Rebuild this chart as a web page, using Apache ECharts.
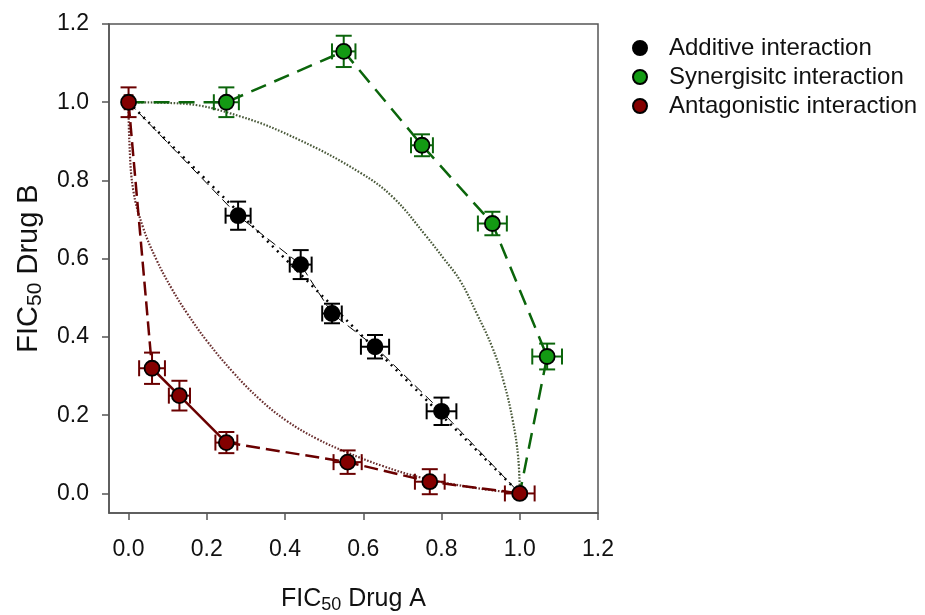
<!DOCTYPE html>
<html><head><meta charset="utf-8">
<script src="https://cdn.jsdelivr.net/npm/echarts@6/dist/echarts.min.js"></script>
<style>html,body{margin:0;padding:0;background:#fff}#c{width:925px;height:615px}</style>
</head><body><div id="c"></div>
<script>
// ---- data ----
const xTicks = [0, 0.2, 0.4, 0.6, 0.8, 1.0, 1.2];
const yTicks = [0, 0.2, 0.4, 0.6, 0.8, 1.0, 1.2];

const seriesNames = ['Additive interaction', 'Synergisitc interaction', 'Antagonistic interaction'];

const additiveX    = [0.28, 0.44, 0.52, 0.63, 0.80];
const additiveY    = [0.71, 0.585, 0.46, 0.375, 0.21];
const additiveXErr = [0.032, 0.028, 0.025, 0.036, 0.038];
const additiveYErr = [0.036, 0.037, 0.025, 0.030, 0.035];

const synergyX    = [0.25, 0.55, 0.75, 0.93, 1.07];
const synergyY    = [1.0, 1.13, 0.89, 0.69, 0.35];
const synergyXErr = [0.032, 0.030, 0.028, 0.037, 0.038];
const synergyYErr = [0.038, 0.040, 0.028, 0.030, 0.033];

const antagX    = [0, 0.06, 0.13, 0.25, 0.56, 0.77, 1.0];
const antagY    = [1.0, 0.32, 0.25, 0.13, 0.08, 0.03, 0.0];
const antagXErr = [0.010, 0.033, 0.027, 0.028, 0.036, 0.038, 0.038];
const antagYErr = [0.038, 0.040, 0.038, 0.027, 0.030, 0.032, 0.005];

// shared end points of the connecting lines
const lineStart = [0, 1];
const lineEnd   = [1, 0];

// dotted reference curves
const convexCurveX  = [0, 0.13, 0.285, 0.438, 0.592, 0.676, 0.763, 0.806, 0.847, 0.89, 0.93, 0.958, 0.982, 0.996, 1.0];
const convexCurveY  = [1, 0.997, 0.964, 0.903, 0.82, 0.757, 0.655, 0.6, 0.545, 0.46, 0.373, 0.289, 0.187, 0.092, 0];
const concaveCurveX = [0, 0.002, 0.012, 0.037, 0.072, 0.11, 0.15, 0.2, 0.267, 0.336, 0.405, 0.481, 0.558, 0.65, 0.75, 0.88, 1.0];
const concaveCurveY = [1, 0.9, 0.775, 0.68, 0.596, 0.524, 0.46, 0.39, 0.31, 0.24, 0.185, 0.14, 0.105, 0.07, 0.04, 0.015, 0];

// ---- build ----
const zip = (a, b) => a.map((v, i) => [v, b[i]]);
const zip4 = (a, b, c, d) => a.map((v, i) => [v, b[i], c[i], d[i]]);

const BLACK = '#000000', GREEN_FILL = '#139a13', GREEN_LINE = '#0b650b', RED_FILL = '#840000', RED_LINE = '#6a0000';

function errorSeries(data, color) {
  return {
    type: 'custom', z: 3, silent: true,
    data: data,
    encode: { x: 0, y: 1 },
    renderItem: function (params, api) {
      const x = api.value(0), y = api.value(1), xe = api.value(2), ye = api.value(3);
      const l = api.coord([x - xe, y]), r = api.coord([x + xe, y]);
      const t = api.coord([x, y + ye]), b = api.coord([x, y - ye]);
      const c = 8;
      const st = { stroke: color, lineWidth: 2 };
      const ln = (x1, y1, x2, y2) => ({ type: 'line', shape: { x1, y1, x2, y2 }, style: st });
      return {
        type: 'group', children: [
          ln(l[0], l[1], r[0], r[1]),
          ln(l[0], l[1] - c, l[0], l[1] + c),
          ln(r[0], r[1] - c, r[0], r[1] + c),
          ln(t[0], t[1], b[0], b[1]),
          ln(t[0] - c, t[1], t[0] + c, t[1]),
          ln(b[0] - c, b[1], b[0] + c, b[1])
        ]
      };
    }
  };
}

function lineSeries(data, color, width, dash, z, smooth) {
  return {
    type: 'line', data: data, symbol: 'none', silent: true, z: z || 2,
    smooth: smooth || false,
    lineStyle: { color: color, width: width, type: dash }
  };
}

function scatterSeries(name, data, fill) {
  return {
    name: name, type: 'scatter', data: data, symbol: 'circle', symbolSize: 15, z: 5,
    itemStyle: { color: fill, borderColor: '#000', borderWidth: 1.8, opacity: 1 }
  };
}

const addPts = zip(additiveX, additiveY);
const synPts = zip(synergyX, synergyY);
const antPts = zip(antagX, antagY);

const series = [
  lineSeries(zip(convexCurveX, convexCurveY), '#4a5a3a', 2.2, [1.6, 1.6], 1, 0.4),
  lineSeries(zip(concaveCurveX, concaveCurveY), '#6a2f2f', 2.2, [1.6, 1.6], 1, 0.4),
  lineSeries([lineStart, lineEnd], '#000', 2.5, [2, 5], 2),
  lineSeries([lineStart].concat(addPts, [lineEnd]), '#000', 1, [10, 5], 2),
  lineSeries([lineStart].concat(synPts, [lineEnd]), GREEN_LINE, 2.5, [16, 9], 2),
  lineSeries(antPts.slice(0, 2), RED_LINE, 2.5, [14, 6], 2),
  lineSeries(antPts.slice(1, 4), RED_LINE, 2.5, 'solid', 2),
  lineSeries(antPts.slice(3), RED_LINE, 2.5, [14, 6], 2),
  errorSeries(zip4(additiveX, additiveY, additiveXErr, additiveYErr), BLACK),
  errorSeries(zip4(synergyX, synergyY, synergyXErr, synergyYErr), GREEN_LINE),
  errorSeries(zip4(antagX, antagY, antagXErr, antagYErr), RED_LINE),
  scatterSeries(seriesNames[0], addPts, BLACK),
  scatterSeries(seriesNames[1], synPts, GREEN_FILL),
  scatterSeries(seriesNames[2], antPts, RED_FILL)
];

const FONT = 'Liberation Sans, Arial, sans-serif';
const axisCommon = {
  type: 'value',
  splitLine: { show: false },
  axisLine: { show: true, onZero: false, lineStyle: { color: '#555', width: 1.5 } },
  axisTick: { show: true, inside: false, length: 7, lineStyle: { color: '#555', width: 1.5 } },
  nameLocation: 'middle'
};

const option = {
  animation: false,
  backgroundColor: '#fff',
  grid: { left: 109, top: 24, right: 327, bottom: 102, outerBoundsMode: 'none', containLabel: false,
          show: true, borderColor: '#555', borderWidth: 1.5, backgroundColor: 'transparent' },
  legend: {
    data: seriesNames, orient: 'vertical', left: 627, top: 31,
    icon: 'circle', itemWidth: 14, itemHeight: 14, itemGap: 5,
    textStyle: { fontSize: 24, fontFamily: FONT, color: '#111', padding: [0, 0, 0, 17] },
    selectedMode: false
  },
  xAxis: Object.assign({}, axisCommon, {
    min: -0.05, max: 1.2,
    axisTick: Object.assign({}, axisCommon.axisTick, { customValues: xTicks }),
    axisLabel: { customValues: xTicks, formatter: v => v.toFixed(1), fontSize: 23, fontFamily: FONT, color: '#111', margin: 25 },
    name: '{a|FIC}{s|50}{a| Drug A}', nameGap: 71,
    nameTextStyle: {
      rich: {
        a: { fontSize: 25, fontFamily: FONT, color: '#111' },
        s: { fontSize: 18, fontFamily: FONT, color: '#111', padding: [12, 0, 0, 0] }
      }
    }
  }),
  yAxis: Object.assign({}, axisCommon, {
    min: -0.05, max: 1.2,
    axisTick: Object.assign({}, axisCommon.axisTick, { customValues: yTicks }),
    axisLabel: { customValues: yTicks, formatter: v => v.toFixed(1), fontSize: 23, fontFamily: FONT, color: '#111', margin: 20 },
    name: '{a|FIC}{s|50}{a| Drug B}', nameGap: 62, nameRotate: 90,
    nameTextStyle: {
      rich: {
        a: { fontSize: 29, fontFamily: FONT, color: '#111' },
        s: { fontSize: 21, fontFamily: FONT, color: '#111', padding: [14, 0, 0, 0] }
      }
    }
  }),
  series: series
};

const chart = echarts.init(document.getElementById('c'), null, { renderer: 'canvas' });
chart.setOption(option);
</script>
</body></html>
